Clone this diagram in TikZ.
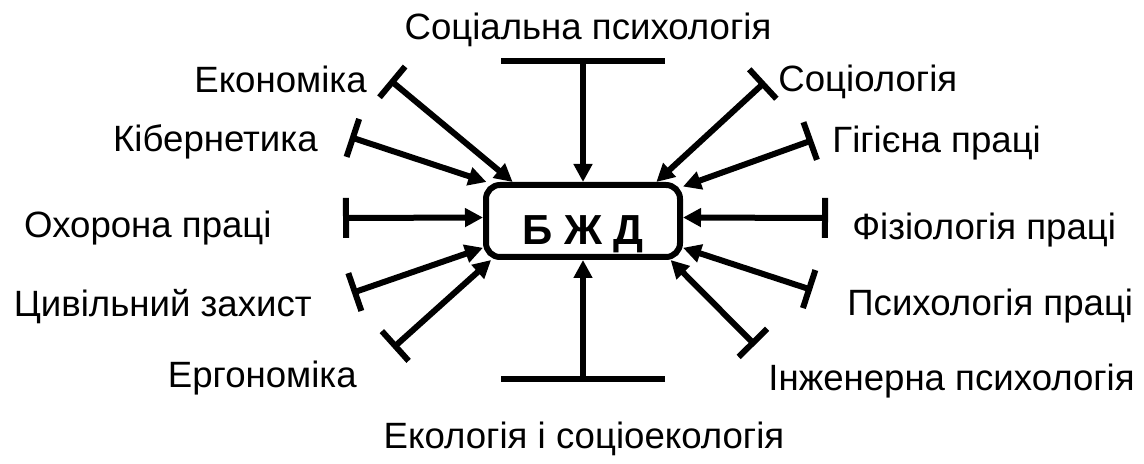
\documentclass[tikz,border=0pt]{standalone}
\usepackage{fontspec}
\setmainfont{Liberation Sans}
\usetikzlibrary{arrows.meta}

\tikzset{
  lbl/.style={inner sep=0pt,font=\fontsize{18.3}{22}\selectfont},
  feed/.style={line width=3pt,{Bar[width=20pt,length=3pt]}-{Triangle[length=9pt,width=9pt]}},
  widefeed/.style={line width=3pt,{Bar[width=82pt,length=3pt]}-{Triangle[length=9pt,width=9pt]}}
}

\begin{document}
\begin{tikzpicture}[x=0.5pt,y=-0.5pt]
\useasboundingbox (0,0) rectangle (1144,464);
\node (bzd) at (583,221) [draw,line width=3pt,rounded corners=7pt,inner sep=0pt,
  minimum width=97pt,minimum height=36pt,text height=24pt,text depth=0pt,
  font=\fontsize{21}{25}\selectfont\bfseries] {Б Ж Д};
% labels
\node (soc) at (588,40) [lbl,anchor=base] {Соціальна психологія};
\node (eco) at (367,93) [lbl,anchor=base east] {Економіка};
\node (kib) at (318,152) [lbl,anchor=base east] {Кібернетика};
\node (okh) at (272,238) [lbl,anchor=base east] {Охорона праці};
\node (civ) at (312,317) [lbl,anchor=base east] {Цивільний захист};
\node (erg) at (357,387) [lbl,anchor=base east] {Ергономіка};
\node (sol) at (778,92) [lbl,anchor=base west] {Соціологія};
\node (gig) at (832,153) [lbl,anchor=base west] {Гігієна праці};
\node (fiz) at (852,240) [lbl,anchor=base west] {Фізіологія праці};
\node (psy) at (847,315) [lbl,anchor=base west] {Психологія праці};
\node (inz) at (768,390) [lbl,anchor=base west] {Інженерна психологія};
\node (ekl) at (584,448) [lbl,anchor=base] {Екологія і соціоекологія};
% bar ends
\coordinate (socb) at (583,58);
\coordinate (ecob) at (390,80);
\coordinate (kibb) at (350,137);
\coordinate (okhb) at (343,218);
\coordinate (civb) at (352,293);
\coordinate (ergb) at (393,348);
\coordinate (solb) at (765,82);
\coordinate (gigb) at (813,140);
\coordinate (fizb) at (828,218);
\coordinate (psyb) at (812,290);
\coordinate (inzb) at (755,345);
\coordinate (eklb) at (583,382);
% connectors
\draw[widefeed] (socb) -- (bzd.north);
\draw[widefeed] (eklb) -- (bzd.south);
\draw[feed] (ecob) -- (bzd.151);
\draw[feed] (kibb) -- (bzd.158);
\draw[feed] (okhb) -- (bzd.178);
\draw[feed] (civb) -- (bzd.195);
\draw[feed] (ergb) -- (bzd.203);
\draw[feed] (solb) -- (bzd.28);
\draw[feed] (gigb) -- (bzd.19);
\draw[feed] (fizb) -- (bzd.2);
\draw[feed] (psyb) -- (bzd.345);
\draw[feed] (inzb) -- (bzd.336);
\end{tikzpicture}
\end{document}
